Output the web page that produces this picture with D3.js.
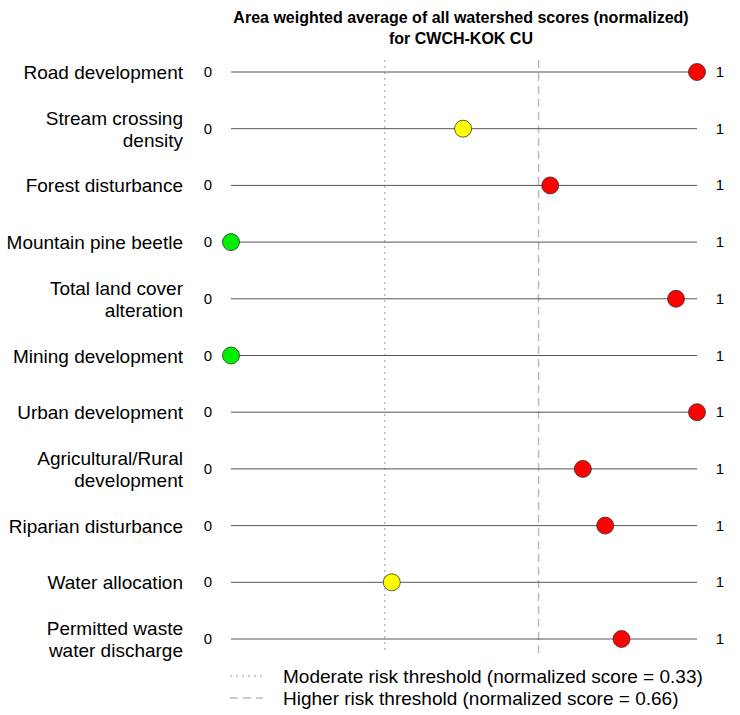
<!DOCTYPE html>
<html>
<head>
<meta charset="utf-8">
<script src="https://cdn.jsdelivr.net/npm/d3@7"></script>
<style>
  body { margin: 0; background: #fff; }
  svg { display: block; font-family: "Liberation Sans", Arial, sans-serif; }
</style>
</head>
<body>
<div id="chart"></div>
<script>
(function() {
  const width = 740;
  const height = 715;

  // Data
  const labels = [
    ["Road development"],
    ["Stream crossing", "density"],
    ["Forest disturbance"],
    ["Mountain pine beetle"],
    ["Total land cover", "alteration"],
    ["Mining development"],
    ["Urban development"],
    ["Agricultural/Rural", "development"],
    ["Riparian disturbance"],
    ["Water allocation"],
    ["Permitted waste", "water discharge"]
  ];
  const scores = [1.0, 0.498, 0.685, 0.0, 0.955, 0.0, 1.0, 0.755, 0.803, 0.345, 0.838];
  const fills = ["red", "yellow", "red", "#00ee00", "red", "#00ee00", "red", "red", "red", "yellow", "red"];
  const thresholds = [0.33, 0.66];
  const thresholdDash = ["2,4", "8,5"];
  const legendText = [
    "Moderate risk threshold (normalized score = 0.33)",
    "Higher risk threshold (normalized score = 0.66)"
  ];

  const svg = d3.select("#chart")
    .append("svg")
    .attr("width", width)
    .attr("height", height);

  const x = d3.scaleLinear().domain([0, 1]).range([231, 697]);
  const y = d3.scalePoint()
    .domain(d3.range(labels.length))
    .range([72, 639]);

  // Title
  svg.append("text")
    .attr("x", 461).attr("y", 23)
    .attr("text-anchor", "middle")
    .attr("font-size", "16px")
    .attr("font-weight", "bold")
    .text("Area weighted average of all watershed scores (normalized)");
  svg.append("text")
    .attr("x", 461).attr("y", 44)
    .attr("text-anchor", "middle")
    .attr("font-size", "16px")
    .attr("font-weight", "bold")
    .text("for CWCH-KOK CU");

  // Threshold lines
  svg.selectAll(".thr")
    .data(thresholds)
    .join("line")
    .attr("x1", d => x(d)).attr("x2", d => x(d))
    .attr("y1", 60).attr("y2", 653)
    .attr("stroke", "#bbb")
    .attr("stroke-width", 1.5)
    .attr("stroke-dasharray", (d, i) => thresholdDash[i]);

  const rows = svg.selectAll(".row")
    .data(scores)
    .join("g")
    .attr("transform", (d, i) => `translate(0,${y(i)})`);

  rows.append("line")
    .attr("x1", x(0)).attr("x2", x(1))
    .attr("stroke", "#555")
    .attr("stroke-width", 1);

  rows.append("text")
    .attr("x", 208).attr("y", 5)
    .attr("text-anchor", "middle")
    .attr("font-size", "15px")
    .text("0");
  rows.append("text")
    .attr("x", 720).attr("y", 5)
    .attr("text-anchor", "middle")
    .attr("font-size", "15px")
    .text("1");

  rows.each(function(d, i) {
    const lines = labels[i];
    const t = d3.select(this).append("text")
      .attr("text-anchor", "end")
      .attr("font-size", "19px");
    lines.forEach((s, j) => {
      t.append("tspan")
        .attr("x", 183)
        .attr("y", 7 + (j - (lines.length - 1) / 2) * 22)
        .text(s);
    });
  });

  rows.append("circle")
    .attr("cx", d => x(d))
    .attr("r", 8.5)
    .attr("fill", (d, i) => fills[i])
    .attr("stroke", "#333")
    .attr("stroke-width", 0.8);

  // Legend
  const legend = svg.append("g");
  legendText.forEach((s, i) => {
    const ly = 676 + i * 22;
    legend.append("line")
      .attr("x1", 230).attr("x2", 263)
      .attr("y1", ly).attr("y2", ly)
      .attr("stroke", "#bbb")
      .attr("stroke-width", 1.5)
      .attr("stroke-dasharray", thresholdDash[i]);
    legend.append("text")
      .attr("x", 283).attr("y", ly + 7)
      .attr("font-size", "19px")
      .text(s);
  });
})();
</script>
</body>
</html>
